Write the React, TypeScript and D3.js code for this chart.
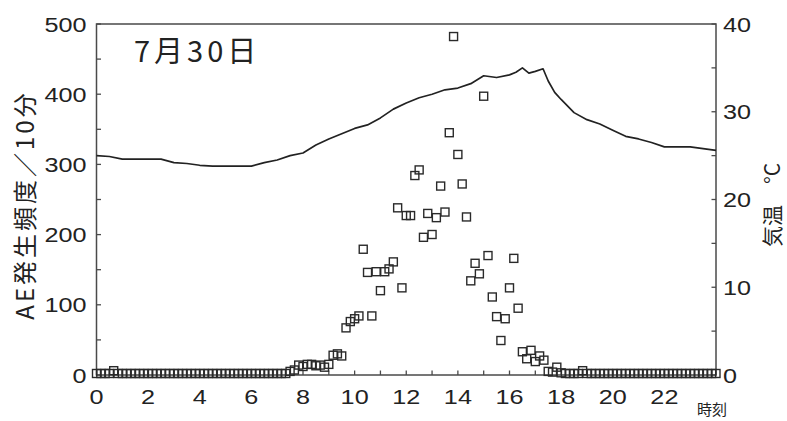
import React from 'react';
import * as d3 from 'd3';

// AE event counts per 10 minutes, 00:00 through 24:00 (145 readings, 6 per hour)
const aeCounts: number[] = [
  0, 0, 0, 0, 4, 0,        // 0h
  0, 0, 0, 0, 0, 0,        // 1h
  0, 0, 0, 0, 0, 0,        // 2h
  0, 0, 0, 0, 0, 0,        // 3h
  0, 0, 0, 0, 0, 0,        // 4h
  0, 0, 0, 0, 0, 0,        // 5h
  0, 0, 0, 0, 0, 0,        // 6h
  0, 0, 0, 3, 5, 12,       // 7h
  10, 13, 13, 11, 12, 9,   // 8h
  13, 26, 28, 25, 65, 74,  // 9h
  78, 82, 177, 144, 82, 145,     // 10h
  118, 145, 149, 159, 236, 122,  // 11h
  225, 225, 282, 290, 194, 228,  // 12h
  198, 222, 267, 230, 343, 480,  // 13h
  312, 270, 223, 132, 157, 142,  // 14h
  395, 168, 109, 81, 47, 78,     // 15h
  122, 164, 93, 31, 21, 33,      // 16h
  17, 25, 19, 3, 2, 9,           // 17h
  1, 0, 0, 0, 0, 4,        // 18h
  0, 0, 0, 0, 0, 0,        // 19h
  0, 0, 0, 0, 0, 0,        // 20h
  0, 0, 0, 0, 0, 0,        // 21h
  0, 0, 0, 0, 0, 0,        // 22h
  0, 0, 0, 0, 0, 0,        // 23h
  0,                       // 24h
];

// Air temperature readings (hour of day, °C)
const tempHours: number[] = [
  0, 0.5, 1, 1.5, 2, 2.5, 3, 3.5, 4, 4.5, 5, 5.5, 6, 6.5, 7, 7.5, 8, 8.5, 9, 9.5,
  10, 10.5, 11, 11.5, 12, 12.5, 13, 13.5, 14, 14.5, 15, 15.5, 16, 16.25, 16.5, 16.75,
  17, 17.3, 17.5, 17.75, 18, 18.5, 19, 19.5, 20, 20.5, 21, 21.5, 22, 22.5, 23, 23.5, 24,
];
const tempValues: number[] = [
  25.0, 24.9, 24.6, 24.6, 24.6, 24.6, 24.2, 24.1, 23.9, 23.8, 23.8, 23.8, 23.8, 24.2, 24.5, 25.0, 25.3, 26.2, 26.9, 27.5,
  28.1, 28.5, 29.3, 30.3, 31.0, 31.6, 32.0, 32.5, 32.7, 33.2, 34.1, 33.9, 34.2, 34.5, 35.0, 34.4,
  34.6, 34.9, 33.5, 32.2, 31.4, 29.9, 29.1, 28.6, 27.9, 27.2, 26.9, 26.5, 26.0, 26.0, 26.0, 25.8, 25.6,
];

const hourTicks: number[] = d3.range(0, 25, 1);
const hourLabels: number[] = [0, 2, 4, 6, 8, 10, 12, 14, 16, 18, 20, 22];
const aeTickValues: number[] = [0, 50, 100, 150, 200, 250, 300, 350, 400, 450, 500];
const aeLabels: number[] = [0, 100, 200, 300, 400, 500];
const tempTickValues: number[] = [0, 5, 10, 15, 20, 25, 30, 35, 40];
const tempLabels: number[] = [0, 10, 20, 30, 40];

const W = 787;
const H = 421;
const plot = { left: 96.5, right: 716, top: 24, bottom: 375 };

const ink = '#222';
const frame = '#4a4a4a';
const numFont = '"Liberation Sans", Arial, sans-serif';
const jpFont = '"Noto Sans CJK JP", "Noto Sans", sans-serif';

export default function App() {
  const x = d3.scaleLinear().domain([0, 24]).range([plot.left, plot.right]);
  const yAE = d3.scaleLinear().domain([0, 500]).range([plot.bottom, plot.top]);
  const yT = d3.scaleLinear().domain([0, 40]).range([plot.bottom, plot.top]);

  const tempLine = d3
    .line<number>()
    .x((_, i) => x(tempHours[i]))
    .y((d) => yT(d));

  const sq = 8;
  const tick = 4.5;

  return (
    <svg
      width={W}
      height={H}
      viewBox={`0 0 ${W} ${H}`}
      style={{ position: 'absolute', left: 0, top: 0, background: '#fff' }}
    >
      <rect x={0} y={0} width={W} height={H} fill="#fff" />

      {/* frame */}
      <rect
        x={plot.left}
        y={plot.top}
        width={plot.right - plot.left}
        height={plot.bottom - plot.top}
        fill="none"
        stroke={frame}
        strokeWidth={1.5}
      />

      {/* inward ticks */}
      {hourTicks.map((h) => (
        <line key={`hx${h}`} x1={x(h)} x2={x(h)} y1={plot.bottom} y2={plot.bottom - tick} stroke={frame} strokeWidth={1.3} />
      ))}
      {aeTickValues.map((v) => (
        <line key={`ya${v}`} x1={plot.left} x2={plot.left + tick} y1={yAE(v)} y2={yAE(v)} stroke={frame} strokeWidth={1.3} />
      ))}
      {tempTickValues.map((v) => (
        <line key={`yt${v}`} x1={plot.right} x2={plot.right - tick} y1={yT(v)} y2={yT(v)} stroke={frame} strokeWidth={1.3} />
      ))}

      {/* temperature */}
      <path d={tempLine(tempValues) || ''} fill="none" stroke={ink} strokeWidth={1.7} strokeLinejoin="round" />

      {/* AE counts */}
      {aeCounts.map((v, i) => (
        <rect
          key={`ae${i}`}
          x={x(i / 6) - sq / 2}
          y={yAE(v) - sq / 2 - 1.5}
          width={sq}
          height={sq}
          fill="none"
          stroke="#2a2a2a"
          strokeWidth={1.4}
        />
      ))}

      {/* tick labels */}
      {hourLabels.map((h) => (
        <text
          key={`lx${h}`}
          transform={`translate(${x(h)},${plot.bottom + 29}) scale(1.2,1)`}
          textAnchor="middle"
          fontFamily={numFont}
          fontSize={21}
          fill={ink}
        >
          {h}
        </text>
      ))}
      {aeLabels.map((v) => (
        <text
          key={`la${v}`}
          transform={`translate(${plot.left - 10},${yAE(v) + 7.5}) scale(1.2,1)`}
          textAnchor="end"
          fontFamily={numFont}
          fontSize={21}
          fill={ink}
        >
          {v}
        </text>
      ))}
      {tempLabels.map((v) => (
        <text
          key={`lt${v}`}
          transform={`translate(${plot.right + 7},${yT(v) + 7.5}) scale(1.2,1)`}
          textAnchor="start"
          fontFamily={numFont}
          fontSize={21}
          fill={ink}
        >
          {v}
        </text>
      ))}

      {/* axis titles */}
      <text
        transform={`translate(34,205) rotate(-90)`}
        textAnchor="middle"
        fontFamily={jpFont}
        fontSize={24}
        letterSpacing={3}
        fill={ink}
      >
        AE発生頻度／10分
      </text>
      <text
        transform={`translate(780,205) rotate(-90)`}
        textAnchor="middle"
        fontFamily={jpFont}
        fontSize={21}
        fill={ink}
      >
        気温　°C
      </text>
      <text x={697} y={415} fontFamily={jpFont} fontSize={15} fill={ink}>
        時刻
      </text>

      {/* date */}
      <text x={134} y={62} fontFamily={jpFont} fontSize={29} fill={ink} letterSpacing={4}>
        7月30日
      </text>
    </svg>
  );
}
